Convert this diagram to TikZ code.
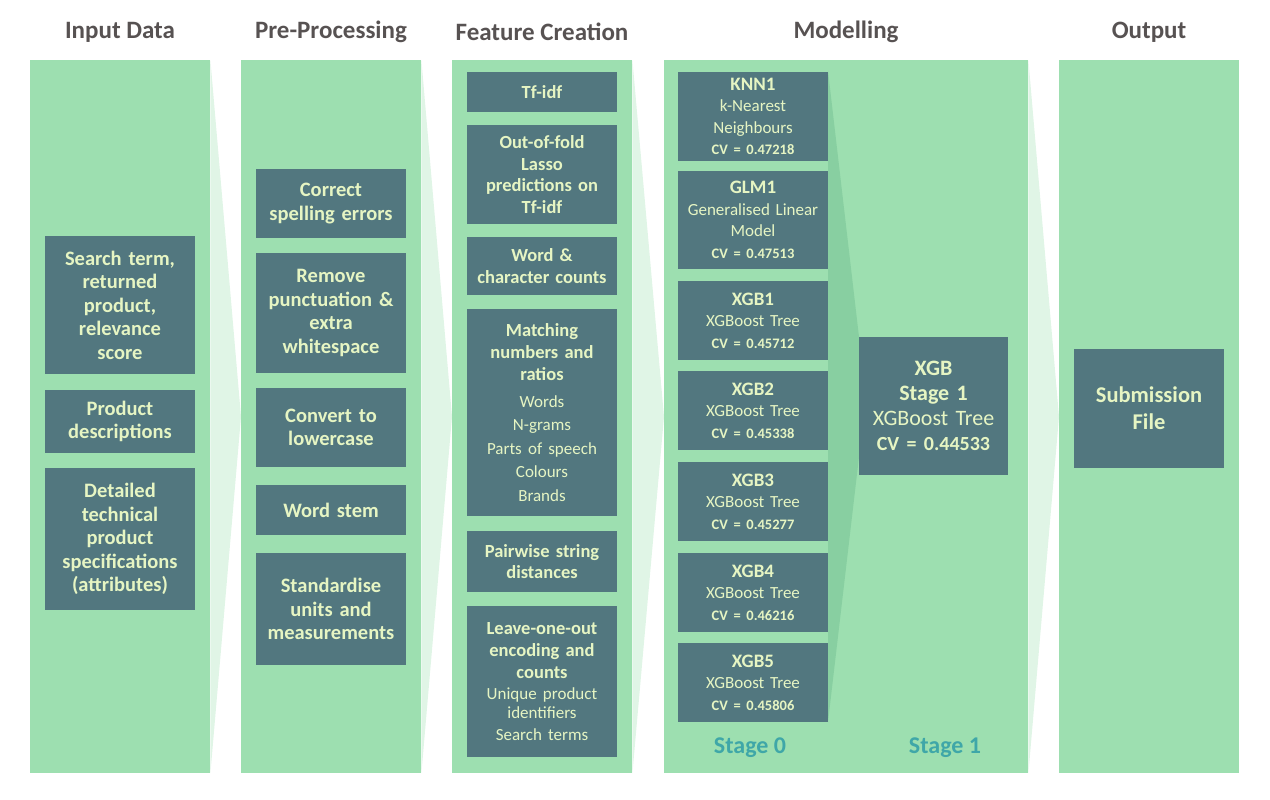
\documentclass[tikz,border=0pt]{standalone}
\usepackage{fontspec}
\setmainfont{Carlito}
\definecolor{colgreen}{HTML}{9DDFB0}
\definecolor{boxc}{HTML}{52777F}
\definecolor{txtc}{HTML}{E6F5C3}
\definecolor{trig}{HTML}{E0F5E6}
\definecolor{band}{HTML}{88CFA1}
\definecolor{titlec}{HTML}{575252}
\definecolor{stagec}{HTML}{3FA7A8}
\newcommand{\cvline}[1]{{\fontsize{14.5}{20}\selectfont\bfseries CV = #1}}
\newcommand{\mtitle}[1]{{\fontsize{19}{21.5}\selectfont\bfseries #1}}
\newcommand{\reg}[1]{{\fontsize{17}{21.5}\selectfont\mdseries #1}}
\begin{document}
\begin{tikzpicture}[x=1pt,y=-1pt,
  col/.style={fill=colgreen,draw=none,inner sep=0pt,anchor=north west},
  box/.style={fill=boxc,text=txtc,inner sep=0pt,minimum width=150pt,text width=144pt,align=center,font=\fontsize{20.5}{23.5}\selectfont\bfseries},
  fbox/.style={box,font=\fontsize{18.5}{21.8}\selectfont\bfseries},
  mbox/.style={box,font=\fontsize{17}{21.5}\selectfont},
  title/.style={text=titlec,font=\fontsize{25}{28}\selectfont\bfseries},
  stage/.style={text=stagec,font=\fontsize{24}{28}\selectfont\bfseries},
  chev/.style={fill=trig,draw=none}]
\useasboundingbox (0,0) rectangle (1270,800);
% columns
\node[col,minimum width=180pt,minimum height=713pt] (c1) at (30,60) {};
\node[col,minimum width=180pt,minimum height=713pt] (c2) at (241,60) {};
\node[col,minimum width=180pt,minimum height=713pt] (c3) at (452,60) {};
\node[col,minimum width=364pt,minimum height=713pt] (c4) at (664,60) {};
\node[col,minimum width=180pt,minimum height=713pt] (c5) at (1059,60) {};
% chevrons
\fill[chev] (c1.north east) -- (c2.west) -- (c1.south east) -- cycle;
\fill[chev] (c2.north east) -- (c3.west) -- (c2.south east) -- cycle;
\fill[chev] (c3.north east) -- (c4.west) -- (c3.south east) -- cycle;
\fill[chev] (c4.north east) -- (c5.west) -- (c4.south east) -- cycle;
% funnel band
\coordinate (ft) at (828,71);
\coordinate (fm) at (866,397);
\coordinate (fb) at (828,722);
\fill[band] (ft) -- (fm) -- (fb) -- cycle;
% titles
\node[title] (t1) at (120,32) {Input Data};
\node[title] (t2) at (331,32) {Pre-Processing};
\node[title] (t3) at (542,32) {Feature Creation};
\node[title] (t4) at (846,32) {Modelling};
\node[title] (t5) at (1149,32) {Output};
% column 1
\node[box,minimum height=138pt] (i1) at (120,305) {Search term,\\returned\\product,\\relevance\\score};
\node[box,minimum height=63pt] (i2) at (120,421.5) {Product\\descriptions};
\node[box,minimum height=142pt] (i3) at (120,539) {Detailed\\technical\\product\\specifications\\(attributes)};
% column 2
\node[box,minimum height=69pt] (p1) at (331,203.5) {Correct\\spelling errors};
\node[box,minimum height=120pt] (p2) at (331,313) {Remove\\punctuation \&\\extra\\whitespace};
\node[box,minimum height=79pt] (p3) at (331,427.5) {Convert to\\lowercase};
\node[box,minimum height=50pt] (p4) at (331,510) {Word stem};
\node[box,minimum height=112pt] (p5) at (331,609) {Standardise\\units and\\measurements};
% column 3
\node[fbox,minimum height=40pt] (f1) at (542,92) {Tf-idf};
\node[fbox,minimum height=99pt] (f2) at (542,174.5) {Out-of-fold\\Lasso\\predictions on\\Tf-idf};
\node[fbox,minimum height=58pt] (f3) at (542,266) {Word \&\\character counts};
\node[fbox,minimum height=207pt] (f4) at (542,412.5) {Matching\\numbers and\\ratios\\[5pt]\reg{Words}\\[1.7pt]\reg{N-grams}\\[1.7pt]\reg{Parts of speech}\\[1.7pt]\reg{Colours}\\[1.7pt]\reg{Brands}};
\node[fbox,minimum height=151pt] (f6) at (542,681.5) {Leave-one-out\\encoding and\\counts\\\reg{Unique product}\\[-3pt]\reg{identifiers}\\\reg{Search terms}};
\node[fbox,minimum height=61pt] (f5) at (542,561.5) {Pairwise string\\distances};
% column 4 stage 0
\node[mbox,minimum height=89pt] (m1) at (753,116.5) {\mtitle{KNN1}\\k-Nearest\\Neighbours\\\cvline{0.47218}};
\node[mbox,minimum height=98pt] (m2) at (753,220) {\mtitle{GLM1}\\Generalised Linear\\Model\\\cvline{0.47513}};
\node[mbox,minimum height=79pt] (m3) at (753,320.5) {\mtitle{XGB1}\\XGBoost Tree\\\cvline{0.45712}};
\node[mbox,minimum height=79pt] (m4) at (753,410.5) {\mtitle{XGB2}\\XGBoost Tree\\\cvline{0.45338}};
\node[mbox,minimum height=79pt] (m5) at (753,501.5) {\mtitle{XGB3}\\XGBoost Tree\\\cvline{0.45277}};
\node[mbox,minimum height=79pt] (m6) at (753,592.5) {\mtitle{XGB4}\\XGBoost Tree\\\cvline{0.46216}};
\node[mbox,minimum height=79pt] (m7) at (753,682.5) {\mtitle{XGB5}\\XGBoost Tree\\\cvline{0.45806}};
% stage 1
\node[box,minimum width=149pt,minimum height=138pt,font=\fontsize{22}{25}\selectfont] (s1) at (933.5,406) {\textbf{XGB}\\\textbf{Stage 1}\\XGBoost Tree\\{\fontsize{20}{25}\selectfont\bfseries CV = 0.44533}};
\node[stage] (l0) at (750,748) {Stage 0};
\node[stage] (l1) at (945,748) {Stage 1};
% output
\node[box,minimum height=119pt,font=\fontsize{22.5}{27}\selectfont\bfseries] (o1) at (1149,408.5) {Submission\\File};
\end{tikzpicture}
\end{document}
